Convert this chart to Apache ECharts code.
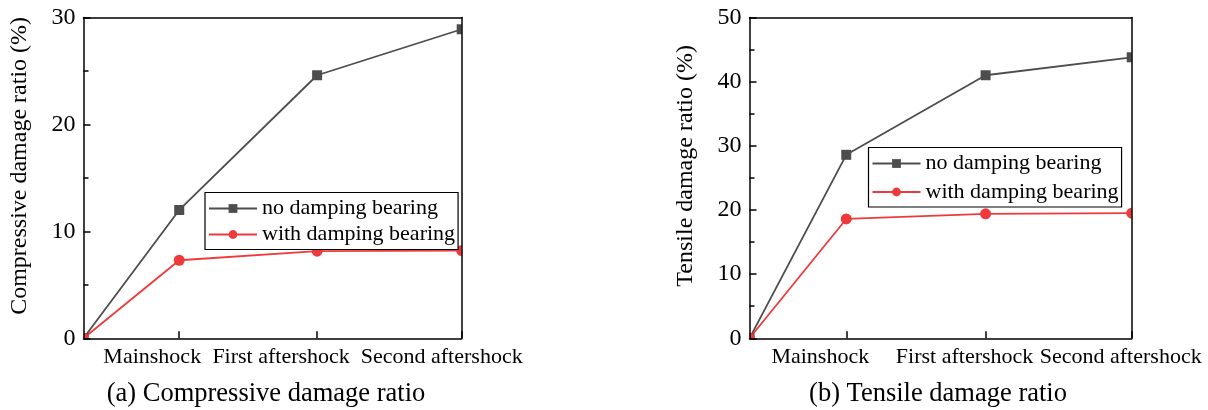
<!DOCTYPE html>
<html>
<head>
<meta charset="utf-8">
<title>Damage ratio comparison</title>
<script src="https://cdn.jsdelivr.net/npm/echarts@6/dist/echarts.min.js"></script>
<style>
  html, body { margin: 0; padding: 0; background: #fff; }
  #chart { width: 1208px; height: 410px; }
</style>
</head>
<body>
<div id="chart"></div>
<script>
// Loading stages: the first point is the undamaged initial state
const stageNames = ['', 'Mainshock', 'First aftershock', 'Second aftershock'];
const stageX = [0, 1, 2.44, 3.95];

// Compressive damage ratio (%)
const compNoDamping = [0, 12.0, 24.6, 28.9];
const compWithDamping = [0, 7.3, 8.15, 8.2];

// Tensile damage ratio (%)
const tensNoDamping = [0, 28.6, 41.0, 43.8];
const tensWithDamping = [0, 18.6, 19.4, 19.5];

// Value axis ranges
const compRange = { max: 30, interval: 10 };
const tensRange = { max: 50, interval: 10 };

const seriesNames = ['no damping bearing', 'with damping bearing'];
const captions = ['(a) Compressive damage ratio', '(b) Tensile damage ratio'];
const yNames = ['Compressive damage ratio (%)', 'Tensile damage ratio (%)'];

// ---------------- layout & style ----------------
const FONT = "'Liberation Serif', 'Times New Roman', serif";
const GRAY = '#4d4d4d';
const RED = '#ef3a3d';
const grids = [
  { left: 83.5, top: 17.5, width: 378.2, height: 320.8 },
  { left: 749.5, top: 17.5, width: 382.2, height: 320.8 }
];
// horizontal shift (px, to the left) of each stage label relative to its tick
const labelShift = [
  [0, 27, 36, 20],
  [0, 26, 21, 11]
];
const legendPos = [
  { left: 205, top: 192.5, itemGap: 4 },
  { left: 868.5, top: 147.5, itemGap: 6.5 }
];
const captionX = [261, 933];

const chart = echarts.init(document.getElementById('chart'), null, { renderer: 'canvas' });

const xAxes = [], yAxes = [], series = [], legends = [], titles = [], graphics = [];

[[compNoDamping, compWithDamping, compRange], [tensNoDamping, tensWithDamping, tensRange]].forEach(function (set, g) {
  const range = set[2];
  const rich = {};
  for (let i = 1; i < stageNames.length; i++) {
    rich['s' + i] = {
      fontFamily: FONT, fontSize: 22, color: '#000',
      padding: [0, labelShift[g][i] * 2, 0, 0]
    };
  }
  const xMin = stageX[0], xMax = stageX[stageX.length - 1];
  // bottom axis with a tick at each loading stage
  xAxes.push({
    type: 'value', gridIndex: g, min: xMin, max: xMax, z: 60,
    position: 'bottom',
    splitLine: { show: false },
    axisLine: { lineStyle: { color: '#000', width: 1.5 } },
    axisTick: { inside: true, length: 7, customValues: stageX.slice(1), lineStyle: { color: '#000', width: 1.5 } },
    axisLabel: {
      customValues: stageX.slice(1), margin: 8,
      formatter: function (v) {
        const i = stageX.indexOf(v);
        return '{s' + i + '|' + stageNames[i] + '}';
      },
      rich: rich
    }
  });
  // top frame line
  xAxes.push({
    type: 'value', gridIndex: g, min: xMin, max: xMax, z: 60, position: 'top',
    splitLine: { show: false }, axisTick: { show: false }, axisLabel: { show: false },
    axisLine: { onZero: false, lineStyle: { color: '#000', width: 1.5 } }
  });
  yAxes.push({
    type: 'value', gridIndex: g, min: 0, max: range.max, interval: range.interval, z: 60,
    position: 'left',
    name: yNames[g], nameLocation: 'middle', nameGap: 52,
    nameTextStyle: { fontFamily: FONT, fontSize: 24, color: '#000', padding: [0, 0, 0, 24] },
    splitLine: { show: false },
    axisLine: { lineStyle: { color: '#000', width: 1.5 } },
    axisTick: { inside: true, length: 7, lineStyle: { color: '#000', width: 1.5 } },
    minorTick: { show: true, splitNumber: 2, length: 5, lineStyle: { color: '#000', width: 1.5 } },
    axisLabel: { fontFamily: FONT, fontSize: 24, color: '#000', margin: 8 }
  });
  // right frame line
  yAxes.push({
    type: 'value', gridIndex: g, min: 0, max: range.max, z: 60, position: 'right',
    splitLine: { show: false }, axisTick: { show: false }, axisLabel: { show: false },
    axisLine: { onZero: false, lineStyle: { color: '#000', width: 1.5 } }
  });

  const xi = g * 2, yi = g * 2;
  [set[0], set[1]].forEach(function (vals, k) {
    const color = k === 0 ? GRAY : RED;
    series.push({
      name: seriesNames[k],
      type: 'line',
      xAxisIndex: xi, yAxisIndex: yi,
      data: vals.map(function (v, i) { return [stageX[i], v]; }),
      symbol: k === 0 ? 'rect' : 'circle',
      symbolSize: k === 0 ? 10 : 11,
      showAllSymbol: true,
      clip: false,
      lineStyle: { color: color, width: 1.8 },
      itemStyle: { color: color },
      emphasis: { disabled: true },
      z: 2
    });
  });

  legends.push({
    orient: 'vertical',
    left: legendPos[g].left, top: legendPos[g].top,
    itemGap: legendPos[g].itemGap,
    itemWidth: 48, itemHeight: 11,
    padding: [5, 3, 4, 3],
    backgroundColor: '#fff',
    borderColor: '#000', borderWidth: 1.2, borderRadius: 0,
    selectedMode: false,
    textStyle: { fontFamily: FONT, fontSize: 22, color: '#000' },
    data: seriesNames,
    z: 55
  });

  titles.push({
    text: captions[g],
    left: captionX[g], top: 376, textAlign: 'center',
    textStyle: { fontFamily: FONT, fontSize: 26.5, fontWeight: 'normal', color: '#000' }
  });

  // white strips just outside the plot frame, so markers are cut at the frame
  const gr = grids[g], pad = 9;
  [
    [gr.left - pad, gr.top - pad, pad, gr.height + 2 * pad],
    [gr.left + gr.width, gr.top - pad, pad, gr.height + 2 * pad],
    [gr.left - pad, gr.top - pad, gr.width + 2 * pad, pad],
    [gr.left - pad, gr.top + gr.height, gr.width + 2 * pad, pad]
  ].forEach(function (r) {
    graphics.push({
      type: 'rect', z: 50, silent: true,
      shape: { x: r[0], y: r[1], width: r[2], height: r[3] },
      style: { fill: '#fff' }
    });
  });
});

chart.setOption({
  animation: false,
  backgroundColor: '#fff',
  textStyle: { fontFamily: FONT },
  grid: grids,
  xAxis: xAxes,
  yAxis: yAxes,
  legend: legends,
  title: titles,
  graphic: { z: 50, elements: graphics },
  series: series
});
</script>
</body>
</html>
